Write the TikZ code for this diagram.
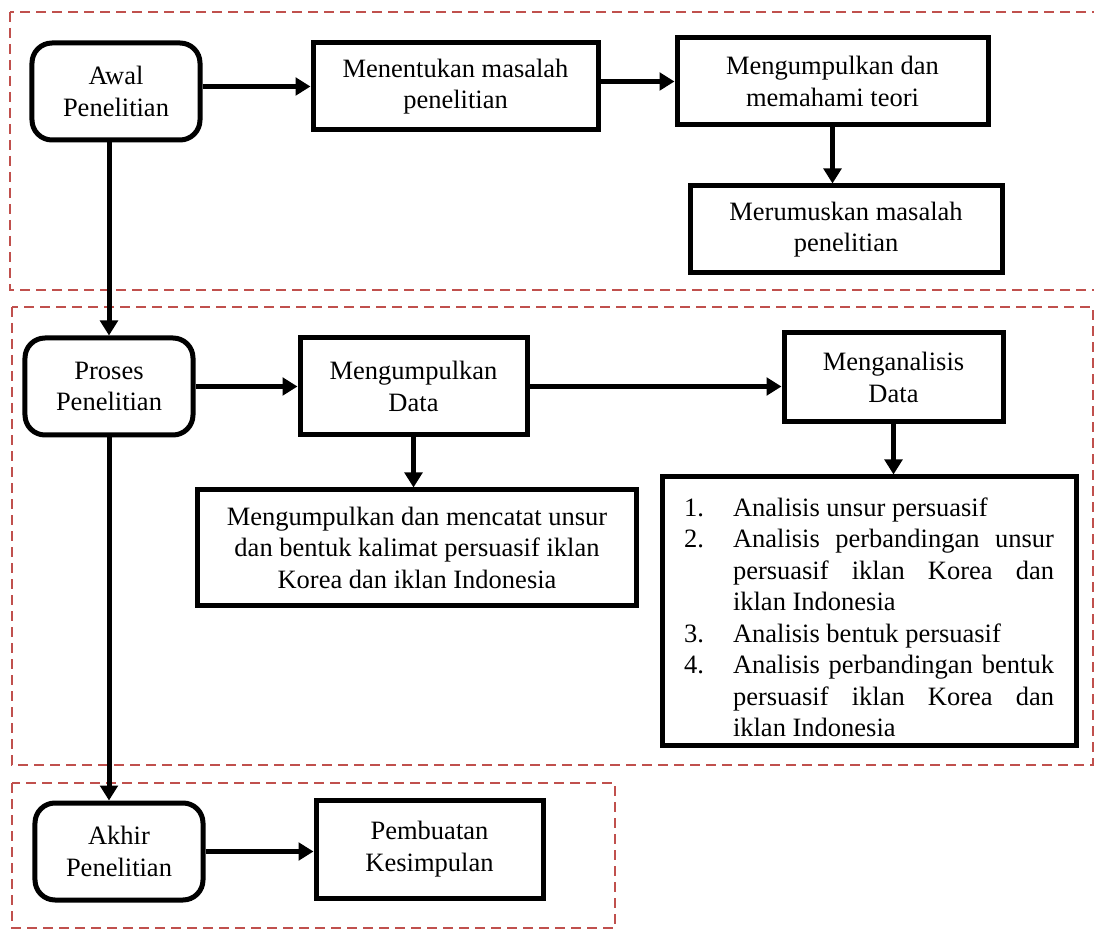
\documentclass[tikz,border=0pt]{standalone}
\usepackage{fontspec}
\setmainfont{Liberation Serif}
\usetikzlibrary{arrows.meta,positioning,calc}
\definecolor{dashred}{HTML}{C0504D}
\tikzset{
  startbox/.style={rounded corners=8pt, draw=black, line width=2pt, align=center, inner sep=3pt, font=\fontsize{10.6}{12.6}\selectfont},
  box/.style={draw=black, line width=2pt, align=center, inner sep=3pt, font=\fontsize{10.6}{12.6}\selectfont},
  arrow/.style={-{Triangle[length=6pt,width=7pt]}, line width=2pt, draw=black},
  group/.style={draw=dashred, line width=0.6pt, dash pattern=on 4pt off 2.4pt}
}
\newcommand{\butir}[2]{\par\noindent\hangindent=19.6pt\hangafter=1\makebox[19.6pt][l]{#1}#2\par}

\begin{document}
\begin{tikzpicture}[x=0.4pt, y=-0.4pt]
  \useasboundingbox (0,0) rectangle (1094,932);
  \draw[group] (10,12) rectangle (1110,290);
  \draw[group] (12,307) rectangle (1093,765);
  \draw[group] (12,783) rectangle (615,928);

  \node[startbox, minimum width=67.2pt, minimum height=38.8pt] (awal) at (116,91.5) {Awal\\Penelitian};
  \node[box, minimum width=114pt, minimum height=34.8pt] (masalah) at (455.5,86.5) {Menentukan masalah\\penelitian};
  \node[box, minimum width=124.4pt, minimum height=34.8pt] (teori) at (832.5,81.5) {Mengumpulkan dan\\memahami teori};
  \node[box, minimum width=124.8pt, minimum height=34.8pt] (rumus) at (846,229.5) {Merumuskan masalah\\penelitian};

  \node[startbox, minimum width=67.2pt, minimum height=38.8pt] (proses) at (109,386.5) {Proses\\Penelitian};
  \node[box, minimum width=90.8pt, minimum height=38.8pt] (kumpul) at (413.5,386.5) {Mengumpulkan\\Data};
  \node[box, minimum width=87.6pt, minimum height=35.6pt] (analisis) at (893.5,377.5) {Menganalisis\\Data};
  \node[box, minimum width=175.2pt, minimum height=46pt] (catat) at (417,547.5) {Mengumpulkan dan mencatat unsur\\dan bentuk kalimat persuasif iklan\\Korea dan iklan Indonesia};
  \node[box, align=justify, text width=148pt, minimum height=107.2pt, inner xsep=8.8pt, inner ysep=2pt] (hasil) at (869,611) {%
    \hyphenpenalty=10000\exhyphenpenalty=10000\tolerance=9999
    \butir{1.}{Analisis unsur persuasif}
    \butir{2.}{Analisis perbandingan unsur persuasif iklan Korea dan iklan Indonesia}
    \butir{3.}{Analisis bentuk persuasif}
    \butir{4.}{Analisis perbandingan bentuk persuasif iklan Korea dan iklan Indonesia}};

  \node[startbox, minimum width=67.2pt, minimum height=38.8pt] (akhir) at (119,851.5) {Akhir\\Penelitian};
  \node[box, minimum width=90.8pt, minimum height=39.2pt] (simpul) at (429.5,849) {Pembuatan\\Kesimpulan};

  \draw[arrow] (masalah.west -| awal.east) -- (masalah.west);
  \draw[arrow] (teori.west -| masalah.east) -- (teori.west);
  \draw[arrow] (teori.south) -- (teori.south |- rumus.north);
  \draw[arrow] (awal.south -| proses.north) -- (proses.north);
  \draw[arrow] (proses.east) -- (proses.east -| kumpul.west);
  \draw[arrow] (kumpul.east) -- (kumpul.east -| analisis.west);
  \draw[arrow] (kumpul.south) -- (kumpul.south |- catat.north);
  \draw[arrow] (analisis.south) -- (analisis.south |- hasil.north);
  \draw[arrow] (proses.south) -- (proses.south |- akhir.north);
  \draw[arrow] (akhir.east) -- (akhir.east -| simpul.west);
\end{tikzpicture}
\end{document}
